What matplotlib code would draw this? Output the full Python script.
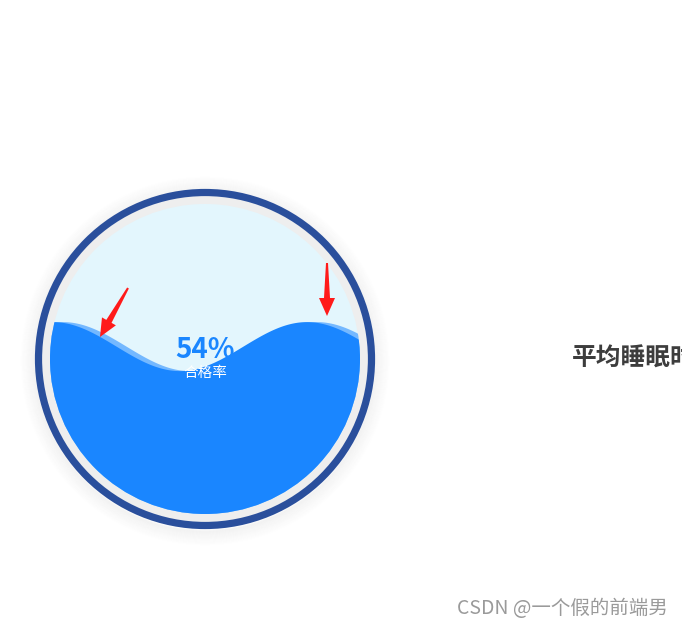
import numpy as np
import matplotlib
matplotlib.use('Agg')
import matplotlib.pyplot as plt
from matplotlib.patches import Circle, Polygon

plt.rcParams['font.family'] = ['Noto Sans CJK SC', 'DejaVu Sans']

# data
value = 0.54
value_label = '54%'
sub_label = '合格率'
title_text = '平均睡眠时长'
watermark = 'CSDN @一个假的前端男'
# hand drawn red arrows (tail, tip) in pixel coords
arrows = [((128, 288), (100, 337)), ((327, 263), (327, 316))]

W, H = 682, 627
fig = plt.figure(figsize=(W / 100, H / 100), dpi=100)
ax = fig.add_axes([0, 0, 1, 1])
ax.set_xlim(0, W)
ax.set_ylim(H, 0)
ax.set_aspect('equal')
ax.axis('off')

cx, cy = 205, 359
r_in = 155
r_ring = 166.5

# soft shadow around the ring
for i in range(16):
    ax.add_patch(Circle((cx, cy + 2), r_ring + 3 + i, fill=False, lw=1.5,
                        ec=(0, 0, 0, 0.025 * (16 - i) / 16), zorder=1))

ax.add_patch(Circle((cx, cy), r_ring - 3, fc='#eeeeee', ec='none', zorder=2))
ax.add_patch(Circle((cx, cy), r_ring, fill=False, ec='#2a4f9c', lw=5.2, zorder=3))
inner = Circle((cx, cy), r_in, fc='#e3f6fd', ec='none', zorder=4)
ax.add_patch(inner)

# waves
level = cy + r_in - 2 * r_in * value
wl = 254
amp = 24.5
xs = np.linspace(cx - r_in - 5, cx + r_in + 5, 400)
for shift, col, z in [(10, '#74b8ff', 5), (0, '#1a86ff', 6)]:
    ys = level - amp * np.cos(2 * np.pi * (xs - 53 - shift) / wl)
    pts = np.column_stack([np.r_[xs, xs[::-1]], np.r_[ys, np.full(len(xs), cy + r_in + 10)]])
    wave = Polygon(pts, closed=True, fc=col, ec='none', zorder=z)
    ax.add_patch(wave)
    wave.set_clip_path(Circle((cx, cy), r_in, transform=ax.transData))

ax.text(cx, 350, value_label, ha='center', va='center', fontsize=20,
        fontweight='bold', color='#1a86ff', zorder=8)
ax.text(cx, 373, sub_label, ha='center', va='center', fontsize=10.5,
        color='white', zorder=8)

# red arrows
for (tx, ty), (px, py) in arrows:
    d = np.array([px - tx, py - ty], float)
    L = np.hypot(*d)
    d /= L
    n = np.array([-d[1], d[0]])
    t = np.array([tx, ty], float)
    p = np.array([px, py], float)
    base = p - d * 18
    poly = [t + n * 1.0, base + n * 3, base + n * 8, p,
            base - n * 8, base - n * 3, t - n * 1.0]
    ax.add_patch(Polygon(poly, closed=True, fc='#ff1a1a', ec='none', zorder=9))

ax.text(572, 358, title_text, ha='left', va='center', fontsize=17.8,
        fontweight='bold', color='#3d3d3d', clip_on=False)
ax.text(457, 608, watermark, ha='left', va='center', fontsize=14,
        color='#9a9a9a')

fig.savefig('out.png', dpi=100)
